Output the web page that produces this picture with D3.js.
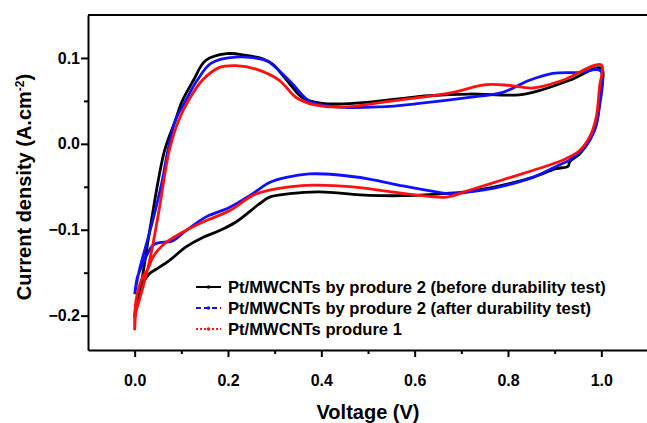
<!DOCTYPE html>
<html>
<head>
<meta charset="utf-8">
<script src="https://cdn.jsdelivr.net/npm/d3@7"></script>
<style>
  body { margin: 0; background: #fff; }
  svg { display: block; font-family: "Liberation Sans", Arial, sans-serif; }
</style>
</head>
<body>
<div id="chart"></div>
<script>
// legend labels
const seriesNames = [
  'Pt/MWCNTs by produre 2 (before durability test)',
  'Pt/MWCNTs by produre 2 (after durability test)',
  'Pt/MWCNTs produre 1'
];

// each CV loop: anodic sweep 0 -> 1 V, then cathodic sweep back to 0 V
const blackV = [0, 0.007, 0.014, 0.035, 0.064, 0.087, 0.102, 0.126, 0.152, 0.197, 0.239, 0.274, 0.295, 0.332, 0.359, 0.402, 0.488, 0.56, 0.631, 0.717, 0.824, 0.867, 0.932, 1.0,
  0.997, 0.989, 0.975, 0.953, 0.932, 0.929, 0.903, 0.853, 0.782, 0.71, 0.66, 0.603, 0.503, 0.396, 0.332, 0.289, 0.267, 0.217, 0.182, 0.146, 0.11, 0.074, 0.046, 0.032, 0.01, 0];
const blackI = [-0.202, -0.18, -0.163, -0.092, -0.008, 0.027, 0.05, 0.074, 0.097, 0.105, 0.103, 0.099, 0.093, 0.07, 0.054, 0.047, 0.048, 0.052, 0.056, 0.058, 0.057, 0.062, 0.074, 0.088,
  0.054, 0.023, 0.004, -0.012, -0.021, -0.026, -0.029, -0.039, -0.049, -0.056, -0.058, -0.06, -0.06, -0.056, -0.058, -0.062, -0.07, -0.091, -0.101, -0.109, -0.12, -0.136, -0.146, -0.151, -0.171, -0.2];

const blueV = [0, 0.01, 0.027, 0.044, 0.059, 0.071, 0.087, 0.109, 0.134, 0.164, 0.217, 0.282, 0.3, 0.338, 0.374, 0.432, 0.525, 0.61, 0.717, 0.789, 0.846, 0.896, 0.953, 0.998,
  0.996, 0.985, 0.964, 0.939, 0.925, 0.912, 0.853, 0.782, 0.717, 0.675, 0.646, 0.575, 0.503, 0.432, 0.374, 0.325, 0.289, 0.253, 0.203, 0.153, 0.11, 0.081, 0.053, 0.039, 0.024, 0.014, 0.006, 0];
const blueI = [-0.175, -0.147, -0.113, -0.078, -0.043, -0.008, 0.027, 0.05, 0.074, 0.094, 0.101, 0.097, 0.09, 0.07, 0.05, 0.043, 0.043, 0.047, 0.054, 0.06, 0.074, 0.082, 0.083, 0.085,
  0.043, 0.015, -0.004, -0.016, -0.021, -0.024, -0.039, -0.05, -0.056, -0.058, -0.056, -0.049, -0.041, -0.036, -0.035, -0.039, -0.045, -0.058, -0.074, -0.085, -0.101, -0.113, -0.115, -0.118, -0.132, -0.144, -0.155, -0.175];

const redV = [0, 0.003, 0.01, 0.032, 0.053, 0.074, 0.094, 0.115, 0.145, 0.182, 0.217, 0.26, 0.31, 0.346, 0.389, 0.453, 0.525, 0.61, 0.682, 0.753, 0.803, 0.853, 0.917, 1.0,
  0.996, 0.989, 0.975, 0.953, 0.925, 0.903, 0.853, 0.782, 0.717, 0.668, 0.61, 0.539, 0.467, 0.382, 0.332, 0.289, 0.253, 0.203, 0.146, 0.096, 0.06, 0.039, 0.028, 0.017, 0.003, 0];
const redI = [-0.217, -0.195, -0.182, -0.136, -0.075, -0.008, 0.027, 0.05, 0.074, 0.089, 0.091, 0.087, 0.074, 0.054, 0.045, 0.043, 0.048, 0.054, 0.06, 0.069, 0.068, 0.065, 0.074, 0.092,
  0.066, 0.031, 0.008, -0.008, -0.017, -0.022, -0.031, -0.043, -0.054, -0.062, -0.06, -0.055, -0.05, -0.048, -0.05, -0.054, -0.06, -0.078, -0.091, -0.105, -0.118, -0.132, -0.146, -0.155, -0.182, -0.217];

const xTicks = [0, 0.2, 0.4, 0.6, 0.8, 1.0];
const xMinor = [0.1, 0.3, 0.5, 0.7, 0.9];
const yTicks = [-0.2, -0.1, 0.0, 0.1];
const yMinor = [-0.15, -0.05, 0.05];

const width = 647, height = 423;
const margin = {top: 15, right: -1, bottom: 73, left: 88};

const svg = d3.select('#chart').append('svg')
  .attr('width', width)
  .attr('height', height);

const x = d3.scaleLinear().domain([-0.1, 1.1]).range([margin.left, width - margin.right]);
const y = d3.scaleLinear().domain([-0.24, 0.15]).range([height - margin.bottom, margin.top]);

const series = [
  {v: blackV, i: blackI, color: '#000000', dash: null},
  {v: blueV, i: blueI, color: '#1010ff', dash: '5,3'},
  {v: redV, i: redI, color: '#ff1010', dash: '2,2'}
];

const line = d3.line()
  .x(d => x(d[0]))
  .y(d => y(d[1]))
  .curve(d3.curveCatmullRom.alpha(0.5));

// curves
svg.append('g')
  .selectAll('path')
  .data(series)
  .join('path')
  .attr('d', s => line(s.v.map((v, k) => [v, s.i[k]])))
  .attr('fill', 'none')
  .attr('stroke', s => s.color)
  .attr('stroke-width', 2.8)
  .attr('stroke-linejoin', 'round');

// frame top
svg.append('line')
  .attr('x1', x(-0.1)).attr('x2', width + 2)
  .attr('y1', y(0.15)).attr('y2', y(0.15))
  .attr('stroke', '#000').attr('stroke-width', 2);

function xAxis(g) {
  g.attr('transform', `translate(0,${y(-0.24)})`)
    .call(d3.axisBottom(x).tickValues(xTicks).tickSize(7).tickSizeOuter(0).tickFormat(d3.format('.1f')));
  g.select('.domain').attr('stroke-width', 2);
  g.selectAll('.tick line').attr('stroke-width', 2);
  g.selectAll('.tick text')
    .attr('y', 36).attr('dy', null)
    .attr('font-size', 16).attr('font-weight', 'bold')
    .attr('font-family', '"Liberation Sans", Arial, sans-serif');
}

function xMinorAxis(g) {
  g.attr('transform', `translate(0,${y(-0.24)})`)
    .call(d3.axisBottom(x).tickValues(xMinor).tickSize(4).tickFormat(''));
  g.select('.domain').remove();
  g.selectAll('.tick line').attr('stroke-width', 2);
}

function yAxis(g) {
  g.attr('transform', `translate(${x(-0.1)},0)`)
    .call(d3.axisLeft(y).tickValues(yTicks).tickSize(7).tickSizeOuter(0).tickFormat(d3.format('.1f')));
  g.select('.domain').attr('stroke-width', 2);
  g.selectAll('.tick line').attr('stroke-width', 2);
  g.selectAll('.tick text')
    .attr('x', -8)
    .attr('font-size', 16).attr('font-weight', 'bold')
    .attr('font-family', '"Liberation Sans", Arial, sans-serif');
}

function yMinorAxis(g) {
  g.attr('transform', `translate(${x(-0.1)},0)`)
    .call(d3.axisLeft(y).tickValues(yMinor).tickSize(4).tickFormat(''));
  g.select('.domain').remove();
  g.selectAll('.tick line').attr('stroke-width', 2);
}

svg.append('g').call(xAxis);
svg.append('g').call(xMinorAxis);
svg.append('g').call(yAxis);
svg.append('g').call(yMinorAxis);

// axis titles
svg.append('text')
  .attr('x', 368).attr('y', 419)
  .attr('text-anchor', 'middle')
  .attr('font-size', 20).attr('font-weight', 'bold')
  .text('Voltage (V)');

const yt = svg.append('text')
  .attr('transform', 'translate(31,187) rotate(-90)')
  .attr('text-anchor', 'middle')
  .attr('font-size', 20).attr('font-weight', 'bold');
yt.append('tspan').text('Current density (A.cm');
yt.append('tspan').attr('dy', -7).attr('font-size', 12).text('-2');
yt.append('tspan').attr('dy', 7).text(')');

// legend
const legend = svg.append('g')
  .selectAll('g')
  .data(series)
  .join('g')
  .attr('transform', (d, k) => `translate(196,${287 + k * 21})`);

legend.append('line')
  .attr('x1', 0).attr('x2', 25)
  .attr('stroke', d => d.color)
  .attr('stroke-width', 2)
  .attr('stroke-dasharray', d => d.dash);

legend.append('circle')
  .attr('cx', 12.5).attr('r', 1.8)
  .attr('fill', d => d.color);

legend.append('text')
  .attr('x', 32).attr('y', 6)
  .attr('font-size', 16.6).attr('font-weight', 'bold')
  .text((d, k) => seriesNames[k]);
</script>
</body>
</html>
